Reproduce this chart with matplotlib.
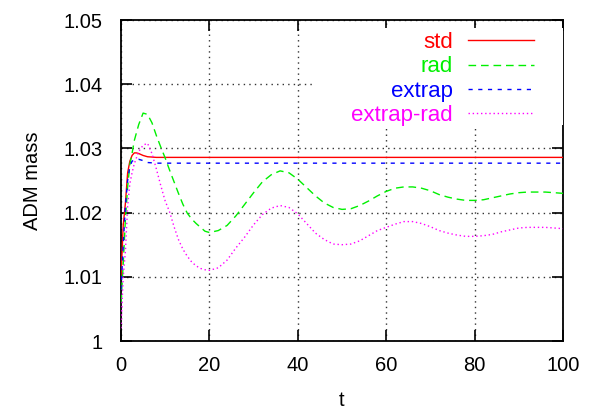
import matplotlib
matplotlib.use("Agg")
import matplotlib.pyplot as plt
from matplotlib.patches import Rectangle

plt.rcParams['font.family'] = ['Liberation Sans', 'DejaVu Sans']

# ---- data ----
t_std = [0, 0.5, 1, 1.5, 2, 2.5, 3, 3.5, 4, 5, 6, 8, 100]
m_std = [1.0100, 1.0180, 1.0215, 1.0262, 1.0280, 1.0289, 1.0293, 1.0293,
         1.0292, 1.0289, 1.0287, 1.0286, 1.0286]

t_ext = [0, 0.5, 1, 1.5, 2, 2.5, 3, 4, 5, 6, 8, 100]
m_ext = [1.0080, 1.0150, 1.0210, 1.0250, 1.0272, 1.0280, 1.0282, 1.0283,
         1.0281, 1.0278, 1.0277, 1.0277]

t_rad = [0, 0.5, 1, 1.5, 2, 2.5, 3, 4, 5, 6, 7, 8, 9, 10, 11, 12, 13, 14, 15,
         16, 17, 18, 19, 20, 22, 24, 26, 28, 30, 32, 34, 36, 38, 40, 42, 44,
         46, 48, 50, 52, 54, 56, 58, 60, 62, 64, 66, 68, 70, 72, 74, 76, 78,
         80, 82, 84, 86, 88, 90, 92, 94, 96, 98, 100]
m_rad = [1.0060, 1.0120, 1.0190, 1.0240, 1.0275, 1.0292, 1.0312, 1.0337,
         1.0355, 1.0353, 1.0340, 1.0320, 1.0302, 1.0285, 1.0266, 1.0248,
         1.0230, 1.0213, 1.0199, 1.0190, 1.0183, 1.0177, 1.0171, 1.0169,
         1.0172, 1.0180, 1.0195, 1.0213, 1.0231, 1.0248, 1.0259, 1.0265,
         1.0262, 1.0252, 1.0239, 1.0226, 1.0215, 1.0208, 1.0205, 1.0206,
         1.0211, 1.0218, 1.0226, 1.0233, 1.0238, 1.0240, 1.0240, 1.0238,
         1.0234, 1.0228, 1.0224, 1.0221, 1.0219, 1.0219, 1.0220, 1.0223,
         1.0226, 1.0229, 1.0231, 1.0232, 1.0232, 1.0232, 1.0231, 1.0230]

m_exr = [1.0020, 1.0100, 1.0140, 1.0210, 1.0245, 1.0262, 1.0276, 1.0295,
         1.0305, 1.0308, 1.0292, 1.0268, 1.0242, 1.0218, 1.0201, 1.0178,
         1.0158, 1.0143, 1.0132, 1.0123, 1.0117, 1.0113, 1.0111, 1.0110,
         1.0114, 1.0126, 1.0145, 1.0162, 1.0181, 1.0197, 1.0207, 1.0211,
         1.0208, 1.0198, 1.0183, 1.0168, 1.0158, 1.0151, 1.0150, 1.0151,
         1.0156, 1.0164, 1.0172, 1.0177, 1.0182, 1.0186, 1.0186, 1.0183,
         1.0178, 1.0172, 1.0168, 1.0165, 1.0163, 1.0163, 1.0164, 1.0166,
         1.0170, 1.0173, 1.0176, 1.0177, 1.0177, 1.0177, 1.0176, 1.0175]

labels = ["std", "rad", "extrap", "extrap-rad"]
x_ticks = [0, 20, 40, 60, 80, 100]
y_ticks = [1.0, 1.01, 1.02, 1.03, 1.04, 1.05]
y_ticklabels = ["1", "1.01", "1.02", "1.03", "1.04", "1.05"]

# ---- plot ----
fig = plt.figure(figsize=(5.97, 4.11), dpi=100)
ax = fig.add_axes([121/597, 70/411, 442/597, 321/411])

ax.plot(t_std, m_std, color='#ff0000', lw=1.0, ls='-', label=labels[0], zorder=6)
ax.plot(t_rad, m_rad, color='#00f000', lw=1.0, ls=(0, (5.5, 3.5)), label=labels[1], zorder=6)
ax.plot(t_ext, m_ext, color='#0000ff', lw=1.0, ls=(0, (3, 4)), label=labels[2], zorder=6)
ax.plot(t_rad, m_exr, color='#ff00ff', lw=1.0, ls=(0, (1, 2)), label=labels[3], zorder=6)

ax.set_xlim(0, 100)
ax.set_ylim(1.0, 1.05)
ax.set_xticks(x_ticks)
ax.set_xticklabels([str(v) for v in x_ticks])
ax.set_yticks(y_ticks)
ax.set_yticklabels(y_ticklabels)

ax.tick_params(direction='in', length=8, width=1.2, top=True, right=True,
               labelsize=14.5, colors='black')
ax.tick_params(axis='y', pad=13)
ax.tick_params(axis='x', pad=11)
for s in ax.spines.values():
    s.set_linewidth(1.3)

ax.grid(True, color='#333333', ls=(0, (1, 3)), lw=1.0, zorder=1)
ax.set_axisbelow(True)

ax.set_xlabel("t", fontsize=14.5, labelpad=11)
ax.set_ylabel("ADM mass", fontsize=14.5, labelpad=16)

# white key box
box = Rectangle((194/442, (341-125)/321), (563-315)/442, (125-28)/321,
                transform=ax.transAxes, facecolor='white', edgecolor='none', zorder=4)
ax.add_patch(box)

leg = ax.legend(loc='upper right', bbox_to_anchor=(1.0 - 29/442, 1.0 - 12/321),
                markerfirst=False, frameon=False, fontsize=16,
                handlelength=2.97, handletextpad=0.68, labelspacing=0.15,
                borderaxespad=0, borderpad=0, labelcolor='linecolor')
leg.set_zorder(7)

fig.savefig("out.png", dpi=100)
